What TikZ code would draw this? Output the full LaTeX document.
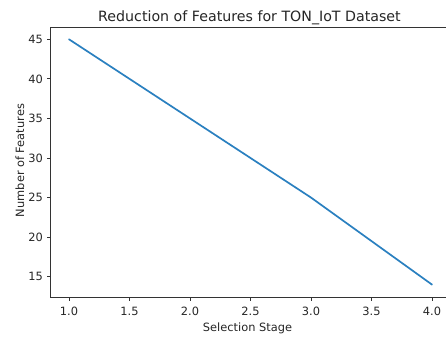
\documentclass[tikz,border=0pt]{standalone}
\usepackage{fontspec}
\setmainfont{DejaVu Sans}
\definecolor{mplblue}{HTML}{2A80C0}
\definecolor{txtgray}{HTML}{262626}
\begin{document}
\begin{tikzpicture}[x=1pt,y=-1pt,
  declare function={px(\v)=69+121*(\v-1); py(\w)=39.3+7.913*(45-\w);},
  spine/.style={draw=black!80, line width=0.9pt},
  tickmark/.style={draw=black!80, line width=0.9pt},
  ticklbl/.style={inner sep=0pt, font=\fontsize{11.4}{13}\selectfont, text=txtgray},
  axlbl/.style={inner sep=0pt, font=\fontsize{11.4}{13}\selectfont, text=txtgray},
  titlelbl/.style={inner sep=0pt, font=\fontsize{14.2}{16}\selectfont, text=txtgray},
  dataline/.style={draw=mplblue, line width=1.7pt, line cap=round, line join=round}]
\useasboundingbox[fill=white] (0,0) rectangle (446,338);
% axes corners
\coordinate (tl) at (50.9,27);
\coordinate (bl) at (50.9,297);
\coordinate (br) at (450,297);
\coordinate (tr) at (450,27);
% data
\coordinate (p1) at ({px(1)},{py(45)});
\coordinate (p2) at ({px(2)},{py(35)});
\coordinate (p3) at ({px(3)},{py(25)});
\coordinate (p4) at ({px(4)},{py(14)});
\draw[dataline] (p1) -- (p2) -- (p3) -- (p4);
% spines
\draw[spine] (br) -- (bl) -- (tl) -- (tr);
% x ticks
\foreach \v/\t [count=\i] in {1/1.0,1.5/1.5,2/2.0,2.5/2.5,3/3.0,3.5/3.5,4/4.0}{
  \coordinate (xt\i) at ({px(\v)},297);
  \draw[tickmark] (xt\i) -- ++(0,4);
  \node[ticklbl, anchor=base] (xl\i) at ({px(\v)},315.5) {\t};
}
% y ticks
\foreach \w in {15,20,25,30,35,40,45}{
  \coordinate (yt\w) at (50.9,{py(\w)});
  \draw[tickmark] (yt\w) -- ++(-4,0);
  \node[ticklbl, anchor=east] (yl\w) at (43,{py(\w)}) {\w};
}
% labels
\node[titlelbl, anchor=base] (title) at (249.5,21) {Reduction of Features for TON\_IoT Dataset};
\node[axlbl, anchor=base] (xlabel) at (247.5,331) {Selection Stage};
\node[axlbl, anchor=base, rotate=90] (ylabel) at (24,160.5) {Number of Features};
\end{tikzpicture}
\end{document}
